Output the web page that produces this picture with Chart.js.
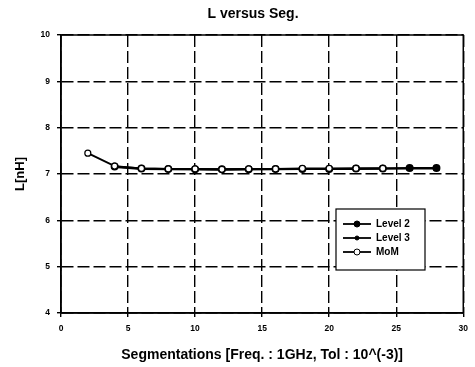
<!DOCTYPE html>
<html>
<head>
<meta charset="utf-8">
<script src="https://cdn.jsdelivr.net/npm/chart.js@4"></script>
<style>
  html, body { margin: 0; padding: 0; background: #fff; }
  #wrap { width: 475px; height: 367px; }
</style>
</head>
<body>
<div id="wrap"><canvas id="c" width="475" height="367"></canvas></div>
<script>
// données
const segL2 = [4, 6, 8, 10, 12, 14, 16, 18, 20, 22, 24, 26, 28];
const level2 = [7.16, 7.12, 7.11, 7.10, 7.10, 7.10, 7.11, 7.11, 7.11, 7.12, 7.12, 7.13, 7.13];
const segL3 = [4, 6, 8, 10, 12, 14, 16, 18, 20, 22, 24, 26, 28];
const level3 = [7.15, 7.11, 7.10, 7.10, 7.09, 7.10, 7.10, 7.11, 7.11, 7.11, 7.12, 7.12, 7.12];
const segMoM = [2, 4, 6, 8, 10, 12, 14, 16, 18, 20, 22, 24];
const mom = [7.45, 7.17, 7.12, 7.11, 7.11, 7.10, 7.11, 7.11, 7.12, 7.12, 7.12, 7.12];

const FONT = "'Liberation Sans', Arial, sans-serif";
const TITLE = "L versus Seg.";

function pts(xs, ys) {
  return xs.map((x, i) => ({ x: x, y: ys[i] }));
}

// cadre plein autour de la zone du graphique + titre
const frame = {
  id: "frame",
  beforeDatasetsDraw(chart) {
    const a = chart.chartArea;
    const ctx = chart.ctx;
    ctx.save();
    ctx.strokeStyle = "#000";
    ctx.lineWidth = 1.5;
    ctx.strokeRect(a.left, a.top, a.right - a.left, a.bottom - a.top);
    ctx.fillStyle = "#000";
    ctx.font = "bold 14px " + FONT;
    ctx.textAlign = "center";
    ctx.textBaseline = "alphabetic";
    ctx.fillText(TITLE, 253, 18);
    ctx.restore();
  }
};

// légende dessinée dans la zone du graphique
const boxLegend = {
  id: "boxLegend",
  afterDraw(chart) {
    const ctx = chart.ctx;
    const x0 = 336, y0 = 209, w = 89, h = 61;
    ctx.save();
    ctx.fillStyle = "#fff";
    ctx.fillRect(x0, y0, w, h);
    ctx.strokeStyle = "#000";
    ctx.lineWidth = 1.2;
    ctx.strokeRect(x0, y0, w, h);
    ctx.font = "bold 10px " + FONT;
    ctx.textBaseline = "middle";
    chart.data.datasets.forEach((ds, i) => {
      const y = y0 + 15 + i * 14;
      ctx.strokeStyle = "#000";
      ctx.lineWidth = 1.8;
      ctx.beginPath();
      ctx.moveTo(x0 + 7, y);
      ctx.lineTo(x0 + 35, y);
      ctx.stroke();
      ctx.beginPath();
      ctx.arc(x0 + 21, y, ds.pointRadius, 0, Math.PI * 2);
      ctx.fillStyle = ds.pointBackgroundColor;
      ctx.fill();
      ctx.lineWidth = 1;
      ctx.stroke();
      ctx.fillStyle = "#000";
      ctx.fillText(ds.label, x0 + 40, y + 0.5);
    });
    ctx.restore();
  }
};

new Chart(document.getElementById("c").getContext("2d"), {
  type: "line",
  data: {
    datasets: [
      {
        label: "Level 2",
        data: pts(segL2, level2),
        order: 2,
        borderColor: "#000",
        borderWidth: 2,
        pointRadius: 3,
        pointBackgroundColor: "#000",
        pointBorderColor: "#000",
      },
      {
        label: "Level 3",
        data: pts(segL3, level3),
        order: 1,
        borderColor: "#000",
        borderWidth: 2,
        pointRadius: 2,
        pointStyle: "triangle",
        pointBackgroundColor: "#000",
        pointBorderColor: "#000",
      },
      {
        label: "MoM",
        data: pts(segMoM, mom),
        order: 0,
        borderColor: "#000",
        borderWidth: 2,
        pointRadius: 3,
        pointBorderWidth: 1.2,
        pointBackgroundColor: "#fff",
        pointBorderColor: "#000",
      },
    ],
  },
  options: {
    responsive: false,
    animation: false,
    layout: { padding: { left: 0, right: 10, top: 35, bottom: 0 } },
    plugins: {
      legend: { display: false },
      tooltip: { enabled: false },
      title: { display: false },
    },
    scales: {
      x: {
        type: "linear",
        min: 0,
        max: 30,
        ticks: { stepSize: 5, color: "#000", font: { family: FONT, size: 8.5, weight: "bold" }, padding: 7 },
        grid: { color: "#000", lineWidth: 1.4, tickLength: 4 },
        border: { color: "#000", width: 1.5, dash: [12, 4] },
        title: {
          display: true,
          text: "Segmentations [Freq. : 1GHz, Tol : 10^(-3)]",
          color: "#000",
          font: { family: FONT, size: 14, weight: "bold" },
          padding: { top: 2, bottom: 3.6 },
        },
        afterFit: (s) => { s.height = 54; },
      },
      y: {
        min: 4,
        max: 10,
        ticks: { stepSize: 1, color: "#000", font: { family: FONT, size: 8.5, weight: "bold" }, padding: 7 },
        grid: { color: "#000", lineWidth: 1.4, tickLength: 4 },
        border: { color: "#000", width: 1.5, dash: [12, 4] },
        title: {
          display: true,
          text: "L[nH]",
          color: "#000",
          font: { family: FONT, size: 13, weight: "bold" },
          padding: { top: 13, bottom: 4 },
        },
        afterFit: (s) => { s.width = 61; },
      },
    },
  },
  plugins: [frame, boxLegend],
});
</script>
</body>
</html>
